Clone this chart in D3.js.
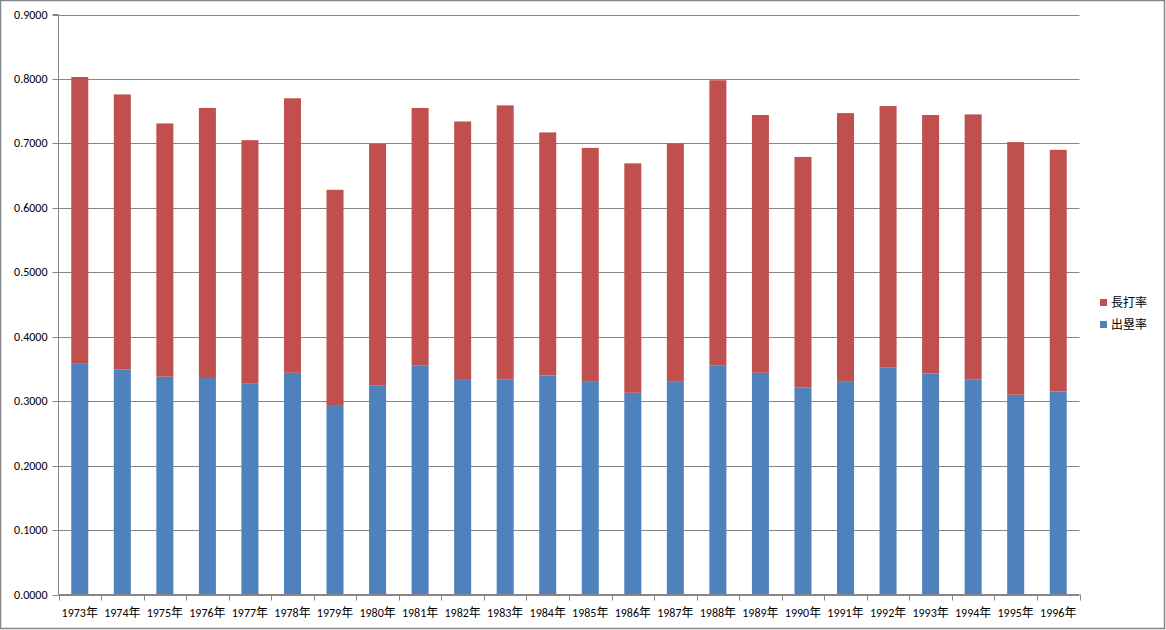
<!DOCTYPE html>
<html><head><meta charset="utf-8">
<script src="https://cdn.jsdelivr.net/npm/d3@7"></script>
<style>body{margin:0;background:#fff}svg{display:block}text{font-family:Calibri,"Liberation Sans","Noto Sans CJK JP",sans-serif}</style>
</head><body>
<script>
const years = ["1973年","1974年","1975年","1976年","1977年","1978年","1979年","1980年","1981年","1982年","1983年","1984年","1985年","1986年","1987年","1988年","1989年","1990年","1991年","1992年","1993年","1994年","1995年","1996年"];
const obp = [0.359,0.349,0.338,0.336,0.327,0.344,0.294,0.324,0.355,0.333,0.334,0.340,0.330,0.313,0.330,0.355,0.344,0.321,0.330,0.352,0.343,0.334,0.310,0.315];
const slg = [0.444,0.427,0.393,0.419,0.378,0.426,0.334,0.375,0.400,0.401,0.425,0.377,0.363,0.356,0.370,0.443,0.400,0.358,0.417,0.406,0.401,0.411,0.392,0.375];
const seriesNames = ["出塁率","長打率"];
const yTicks = [0,0.1,0.2,0.3,0.4,0.5,0.6,0.7,0.8,0.9];
const colors = {"出塁率":"#4F81BD","長打率":"#C0504D"};

(function(){
const W=1166,H=630;
const svg=d3.select("body").append("svg").attr("width",W).attr("height",H);
svg.append("rect").attr("x",0.5).attr("y",0.5).attr("width",1164).attr("height",628).attr("fill","#fff").attr("stroke","#868686").attr("stroke-width",1.5);

const pl=58.5,pr=1079.5,pt=14.5,pb=594.5;
const x=d3.scaleBand().domain(years).range([pl,pr]).paddingInner(0.6).paddingOuter(0.3);
const y=d3.scaleLinear().domain([0,0.9]).range([pb,pt]);

svg.append("g").selectAll("line").data(yTicks).join("line")
  .attr("x1",pl).attr("x2",pr).attr("y1",d=>Math.round(y(d))+0.5).attr("y2",d=>Math.round(y(d))+0.5)
  .attr("stroke","#868686").attr("stroke-width",1);

const rows=years.map((yr,i)=>({year:yr,"出塁率":obp[i],"長打率":slg[i]}));
const stack=d3.stack().keys(seriesNames)(rows);
svg.append("g").selectAll("g").data(stack).join("g").attr("fill",d=>colors[d.key])
  .selectAll("rect").data(d=>d).join("rect")
  .attr("x",d=>x(d.data.year)).attr("width",x.bandwidth())
  .attr("y",d=>y(d[1])).attr("height",d=>y(d[0])-y(d[1]));

const yAxis=d3.axisLeft(y).tickValues(yTicks).tickFormat(d3.format(".4f")).tickSize(6).tickPadding(5);
const gy=svg.append("g").attr("transform",`translate(${pl},0)`).call(yAxis);
gy.select(".domain").attr("stroke","#868686").attr("d",`M-6,${y(0.9)}H0V${pb}`);
gy.selectAll(".tick line").attr("stroke","#868686");
gy.selectAll("text").attr("font-size",12).attr("fill","#000").attr("font-family","Calibri,'Liberation Sans',sans-serif");
gy.selectAll(".tick").attr("transform",d=>`translate(0,${Math.round(y(d))+0.5})`);

const gx=svg.append("g").attr("transform",`translate(0,${pb})`);
gx.append("line").attr("x1",pl).attr("x2",pr).attr("stroke","#868686");
const bounds=d3.range(years.length+1).map(i=>pl+i*(pr-pl)/years.length);
gx.selectAll(".tk").data(bounds).join("line").attr("class","tk")
  .attr("x1",d=>Math.round(d)+0.5).attr("x2",d=>Math.round(d)+0.5).attr("y1",0).attr("y2",6).attr("stroke","#868686");
gx.selectAll("text").data(years).join("text")
  .attr("x",d=>x(d)+x.bandwidth()/2).attr("y",22).attr("text-anchor","middle")
  .attr("font-size",12).attr("fill","#000").text(d=>d);

const legendItems=["長打率","出塁率"];
const lg=svg.append("g").selectAll("g").data(legendItems).join("g")
  .attr("transform",(d,i)=>`translate(1100,${299+i*22})`);
lg.append("rect").attr("width",7).attr("height",7).attr("fill",d=>colors[d]);
lg.append("text").attr("x",11).attr("y",8).attr("font-size",12).attr("fill","#000").text(d=>d);
})();
</script>
</body></html>
